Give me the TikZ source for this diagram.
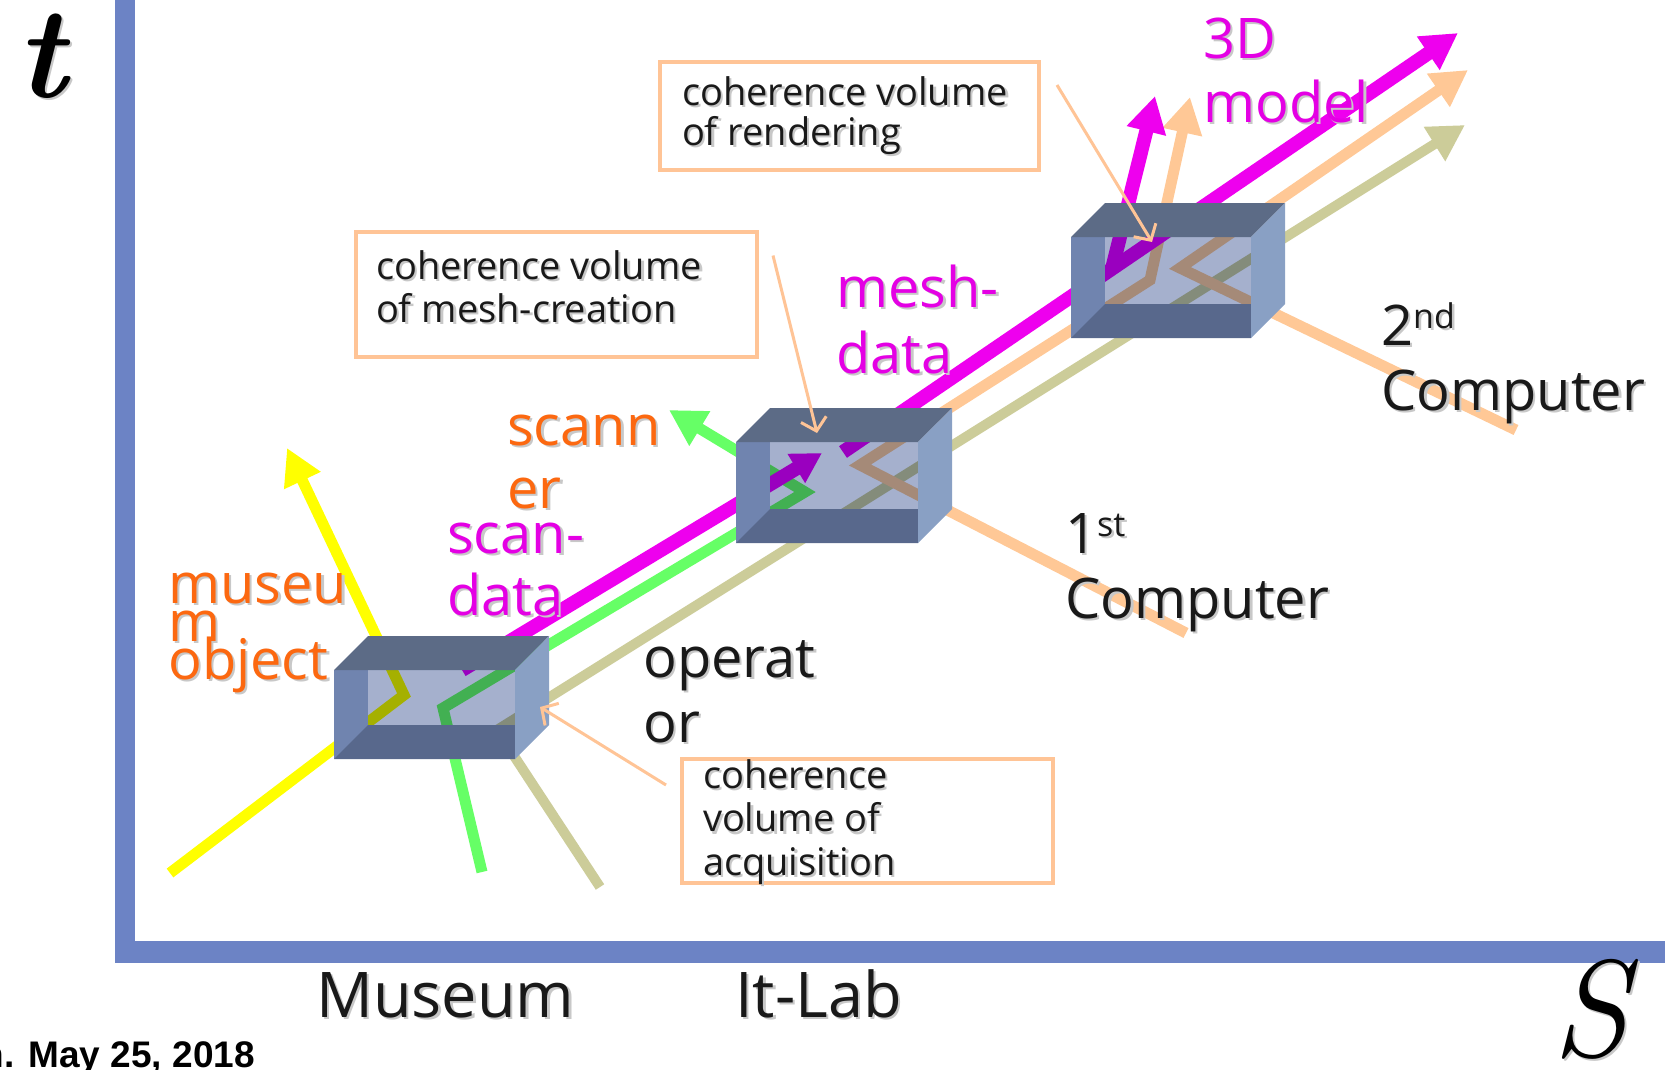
\documentclass[tikz,border=0pt]{standalone}
\usepackage{fontspec}
\usepackage{graphicx}
\usetikzlibrary{arrows.meta,calc}
\newfontfamily\handfont{Open Sans}
\newfontfamily\footfont{Liberation Sans}

\definecolor{axisblue}{RGB}{108,131,197}
\definecolor{boxtop}{RGB}{92,107,134}
\definecolor{boxfloor}{RGB}{88,104,140}
\definecolor{boxside}{RGB}{112,132,175}
\definecolor{boxright}{RGB}{137,160,196}
\definecolor{boxback}{RGB}{165,176,205}
\definecolor{wlyellow}{RGB}{255,255,0}
\definecolor{wlgreen}{RGB}{102,255,102}
\definecolor{wlolive}{RGB}{204,204,153}
\definecolor{wlmagenta}{RGB}{238,0,238}
\definecolor{wlpeach}{RGB}{255,200,150}
\definecolor{callpeach}{RGB}{255,196,150}
\definecolor{txtorange}{RGB}{252,104,16}
\definecolor{txtmagenta}{RGB}{228,0,228}
\definecolor{txtblack}{RGB}{25,25,25}
\definecolor{txtshadow}{RGB}{200,200,200}

% soft drop shadow behind a piece of text
\newcommand\shd[1]{\rlap{\kern2.5pt\raisebox{-2.5pt}{\color{txtshadow}#1}}#1}
% stacked lines; the box baseline is the baseline of the first line
\newcommand\stack[1]{\vtop{\lineskiplimit=-1000pt\lineskip=0pt\halign{##\hfil\cr#1\crcr}}}
\newcommand\sstack[1]{\shd{\stack{#1}}}
% framed note: width, height, text left, first baseline, lines
\newcommand\callbox[5]{\vbox to #2pt{\vskip#4pt\hbox to #1pt{\hskip#3pt\smash{\sstack{#5}}\hss}\vss}}
% coherence volume: front-left-top x, y, width, height (depth 34)
\newcommand\cvbox[4]{%
  \fill[boxback, blend mode=multiply] (#1+34,#2) rectangle (#1+#3,#2+#4-34);
  \fill[boxside] (#1,#2) rectangle (#1+34,#2+#4);
  \fill[boxfloor] (#1,#2+#4) -- (#1+34,#2+#4-34) -- (#1+#3,#2+#4-34) -- (#1+#3,#2+#4) -- cycle;
  \fill[boxtop] (#1,#2) -- (#1+34,#2-34) -- (#1+#3+34,#2-34) -- (#1+#3,#2) -- cycle;
  \fill[boxright] (#1+#3,#2) -- (#1+#3+34,#2-34) -- (#1+#3+34,#2+#4-34) -- (#1+#3,#2+#4) -- cycle;
}

\begin{document}
\begin{tikzpicture}[x=1pt,y=-1pt,
  wl/.style={line width=11pt, line join=miter},
  bigtip/.style={-{Triangle[width=38pt,length=36pt]}},
  callout/.style={draw=callpeach, line width=3pt, -{Straight Barb[length=12pt,width=26pt]}},
  notebox/.style={draw=callpeach, line width=4pt, fill=white, inner sep=0pt, anchor=north west,
    text=txtblack, font=\handfont\fontsize{38}{40}\selectfont},
  lbl/.style={anchor=base west, inner sep=0pt, font=\handfont\fontsize{56}{64}\selectfont},
]
\fill[white] (0,0) rectangle (1665,1069);
\useasboundingbox (0,0) rectangle (1665,1069);

% axes
\fill[axisblue] (115,0) rectangle (135,963);
\fill[axisblue] (115,941) rectangle (1665,963);

% world lines
\coordinate (ol0) at (600,887);  \coordinate (ol1) at (497,730);  \coordinate (ol2) at (1465,125);
\coordinate (pa0) at (1186,633); \coordinate (pa1) at (860,465);  \coordinate (pa2) at (1150,280); \coordinate (pa3) at (1190,97);
\coordinate (pb0) at (1516,430); \coordinate (pb1) at (1180,268); \coordinate (pb2) at (1468,70);
\coordinate (gr0) at (482,872);  \coordinate (gr1) at (443,708);  \coordinate (gr2) at (805,492);  \coordinate (gr3) at (669,410);
\coordinate (ye0) at (170,873);  \coordinate (ye1) at (404,695);  \coordinate (ye2) at (287,448);
\coordinate (sd0) at (462,670);  \coordinate (sd1) at (822,453);
\coordinate (md0) at (843,452);  \coordinate (md1) at (1458,33);
\coordinate (vm0) at (1112,269); \coordinate (vm1) at (1155,96);

\draw[wl, wlolive, line width=10pt, bigtip] (ol0) -- (ol1) -- (ol2);
\draw[wl, wlpeach, bigtip] (pa0) -- (pa1) -- (pa2) -- (pa3);
\draw[wl, wlpeach, bigtip] (pb0) -- (pb1) -- (pb2);
\draw[wl, wlgreen, bigtip] (gr0) -- (gr1) -- (gr2) -- (gr3);
\draw[wl, wlyellow, bigtip] (ye0) -- (ye1) -- (ye2);
\draw[wl, wlmagenta, line width=14pt, -{Triangle[width=32pt,length=30pt]}] (sd0) -- (sd1);
\draw[wl, wlmagenta, line width=14pt, bigtip] (md0) -- (md1);
\draw[wl, wlmagenta, line width=14pt, bigtip] (vm0) -- (vm1);

% coherence volumes
\cvbox{334}{670}{181}{89}
\cvbox{736}{442}{182}{101}
\cvbox{1071}{237}{180}{101}
\coordinate (b1face) at (540,707);
\coordinate (b2top) at (817,433);
\coordinate (b3win) at (1152,242);

% notes
\node[notebox] (rend) at (658,60) {\callbox{379}{108}{22}{43}{coherence volume\cr of rendering}};
\node[notebox, font=\handfont\fontsize{38}{43}\selectfont] (mesh) at (354,230) {\callbox{401}{125}{20}{47}{coherence volume\cr of mesh-creation}};
\node[notebox, font=\handfont\fontsize{38}{43.5}\selectfont] (acq) at (680,757) {\callbox{371}{124}{21}{29}{coherence\cr volume of\cr acquisition}};

\draw[callout] ([xshift=-14pt,yshift=36pt]acq.west) -- (b1face);
\draw[callout] ([xshift=14pt,yshift=39pt]mesh.east) -- (b2top);
\draw[callout] ([xshift=16pt,yshift=31pt]rend.east) -- (b3win);

% labels
\node[lbl, txtorange, font=\handfont\fontsize{56}{38}\selectfont] (obj) at (168,603) {\sstack{museu\cr m\cr object}};
\node[lbl, txtorange, font=\handfont\fontsize{56}{63}\selectfont] (scanner) at (507,445) {\sstack{scann\cr er}};
\node[lbl, txtmagenta, font=\handfont\fontsize{56}{62}\selectfont] (scandata) at (447,553) {\sstack{scan-\cr data}};
\node[lbl, txtmagenta, font=\handfont\fontsize{56}{66}\selectfont] (meshdata) at (836,307) {\sstack{mesh-\cr data}};
\node[lbl, txtmagenta] (model) at (1203,58) {\sstack{3D\cr model}};
\node[lbl, txtblack, font=\handfont\fontsize{56}{65}\selectfont] (operator) at (643,677) {\sstack{operat\cr or}};
\node[lbl, txtblack, font=\handfont\fontsize{56}{65}\selectfont] (comp1) at (1065,553)
  {\sstack{1\raisebox{17pt}{\fontsize{34}{34}\selectfont st}\cr Computer}};
\node[lbl, txtblack, font=\handfont\fontsize{56}{65}\selectfont] (comp2) at (1381,345)
  {\sstack{2\raisebox{17pt}{\fontsize{34}{34}\selectfont nd}\cr Computer}};

\node[lbl, txtblack, font=\handfont\fontsize{63}{63}\selectfont] (museum) at (316,1017) {\shd{Museum}};
\node[lbl, txtblack, font=\handfont\fontsize{63}{63}\selectfont] (itlab) at (735,1017) {\shd{It-Lab}};

\node[lbl, black, font=\bfseries\itshape\fontsize{130}{130}\selectfont] (taxis) at (16,97) {\shd{t}};
\node[lbl, black, font=\itshape\fontsize{138}{138}\selectfont] (saxis) at (1552,1056) {\shd{S}};

\node[anchor=base east, inner sep=0pt, font=\footfont\bfseries\fontsize{37}{37}\selectfont] (date) at (255,1067) {n. May 25, 2018};
\end{tikzpicture}
\end{document}
